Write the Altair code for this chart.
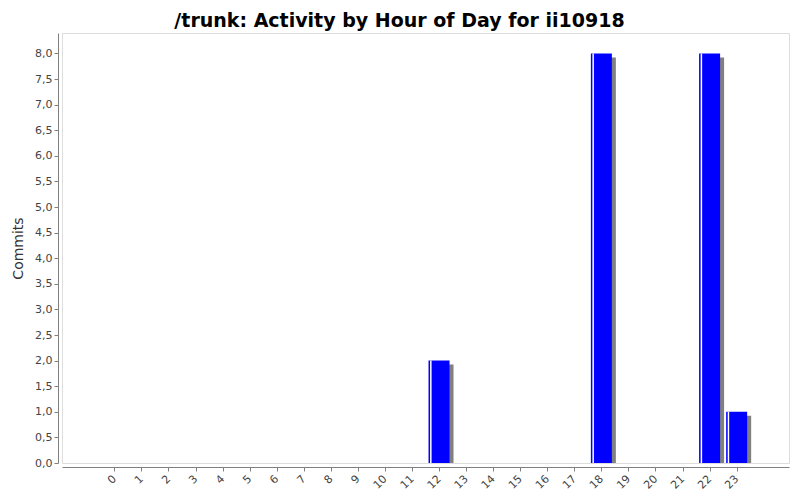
import altair as alt
import pandas as pd

hours = list(range(24))
commits = [0, 0, 0, 0, 0, 0, 0, 0, 0, 0, 0, 0, 2, 0, 0, 0, 0, 0, 8, 0, 0, 0, 8, 1]
y_ticks = [0.0, 0.5, 1.0, 1.5, 2.0, 2.5, 3.0, 3.5, 4.0, 4.5, 5.0, 5.5, 6.0, 6.5, 7.0, 7.5, 8.0]

df = pd.DataFrame({"hour": hours, "commits": commits})
bars_df = df[df["commits"] > 0]

FONT = "DejaVu Sans"

xscale = alt.Scale(domain=[-1.75, 24.75], nice=False, zero=False)
yscale = alt.Scale(domain=[0, 8.4], nice=False, zero=True)

x_axis = alt.Axis(
    title=None, values=hours, labelAngle=-45, labelAlign="right", labelBaseline="middle",
    labelFont=FONT, labelFontSize=11, labelColor="#444444",
    domainColor="#808080", tickColor="#808080", tickSize=4, offset=4,
    labelPadding=6, grid=False, labelFlush=False, labelOverlap=False,
)
y_axis = alt.Axis(
    title="Commits", values=y_ticks,
    labelExpr="replace(format(datum.value, '.1f'), '.', ',')",
    labelFont=FONT, labelFontSize=11, labelColor="#444444",
    titleFont=FONT, titleFontSize=14, titleFontWeight="normal", titleColor="#333333",
    domainColor="#808080", tickColor="#808080", tickSize=4, offset=4,
    titlePadding=9, grid=False, labelFlush=False, labelOverlap=False,
)

X = alt.X("hour:Q", scale=xscale, axis=x_axis)
Y = alt.Y("commits:Q", scale=yscale, axis=y_axis)

axes_layer = alt.Chart(df).mark_point(opacity=0).encode(x=X, y=Y)

shadow = alt.Chart(bars_df).mark_bar(
    color="#808080", width=21, xOffset=4, yOffset=4, clip=True
).encode(x=X, y=Y)

main = alt.Chart(bars_df).mark_bar(color="#0000ff", width=21).encode(x=X, y=Y)

highlight = alt.Chart(bars_df).mark_bar(
    color="#ffffff", width=1.5, xOffset=-8.2
).encode(x=X, y=Y)

chart = alt.layer(axes_layer, shadow, main, highlight).properties(
    width=727, height=430,
    title=alt.TitleParams(
        "/trunk: Activity by Hour of Day for ii10918",
        font=FONT, fontSize=19, fontWeight="bold", color="#000000",
        anchor="middle", dx=-26, offset=2,
    ),
    autosize=alt.AutoSizeParams(type="none"),
    padding={"left": 54, "top": 25, "right": 3, "bottom": 29},
).configure_view(
    stroke="#808080", strokeWidth=1,
).configure(background="white")

chart.save("out.html", embed_options={"renderer": "svg", "actions": False})
